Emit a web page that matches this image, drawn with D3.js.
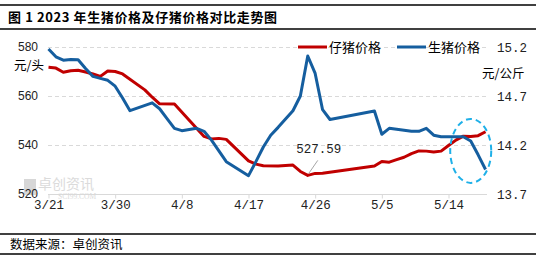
<!DOCTYPE html>
<html><head><meta charset="utf-8">
<script src="https://cdn.jsdelivr.net/npm/d3@7"></script>
<style>
html,body{margin:0;padding:0;background:#fff;}
svg{display:block;}
</style></head>
<body>
<svg id="c" width="536" height="261"></svg>
<script>
// ---- data ----
const titleText = "图 1 2023 年生猪价格及仔猪价格对比走势图";
const sourceText = "数据来源：卓创资讯";
const seriesNames = ["仔猪价格", "生猪价格"];
const leftUnit = "元/头";
const rightUnit = "元/公斤";
const xTickLabels = ["3/21","3/30","4/8","4/17","4/26","5/5","5/14"];
const leftTicks = [520, 540, 560, 580];
const rightTicks = [13.7, 14.2, 14.7, 15.2];

// piglet price (元/头), left axis
const pigletDates = ["3/21","3/22","3/23","3/24","3/25","3/26","3/27","3/28","3/29","3/30","3/31","4/3","4/4","4/5","4/7","4/11","4/12","4/13","4/14","4/17","4/18","4/19","4/21","4/23","4/24","4/25","4/26","4/27","5/4","5/5","5/6","5/7","5/8","5/9","5/10","5/11","5/12","5/13","5/14","5/15","5/16","5/17","5/18","5/19"];
const pigletValues = [571.7,571.4,569.7,570.3,570.5,569.8,569.0,568.0,570.2,570.0,569.0,562.5,559.5,556.8,556.7,543.5,542.5,542.7,542.3,533.5,532.2,531.5,531.4,531.8,529.2,527.59,528.4,528.5,531.4,533.3,533.0,534.0,535.0,536.5,537.6,537.5,537.1,537.5,539.8,542.0,543.6,543.5,543.8,545.4];

// hog price (元/公斤), right axis
const hogDates = ["3/21","3/22","3/23","3/24","3/25","3/26","3/27","3/28","3/29","3/30","3/31","4/1","4/4","4/5","4/6","4/7","4/8","4/10","4/11","4/12","4/14","4/17","4/18","4/19","4/20","4/21","4/23","4/24","4/25","4/26","4/27","4/28","5/4","5/5","5/6","5/9","5/10","5/11","5/12","5/13","5/16","5/17","5/18","5/19"];
const hogValues = [15.18,15.10,15.065,15.072,15.07,14.98,14.90,14.88,14.86,14.80,14.68,14.55,14.63,14.57,14.47,14.37,14.346,14.37,14.34,14.25,14.03,13.887,14.03,14.18,14.30,14.38,14.55,14.70,15.108,14.93,14.56,14.46,14.547,14.31,14.37,14.34,14.34,14.37,14.30,14.285,14.285,14.24,14.10,13.95];

const minLabel = "527.59";
const minDate = "4/25";

// ---- drawing ----
const svg = d3.select("#c");
const parse = s => { const [m, d] = s.split("/").map(Number); return new Date(2023, m - 1, d); };
const RED = "#c00000", BLUE = "#155e9f";
const CJK = "'Noto Sans CJK SC','Noto Sans',sans-serif";

const x = d3.scaleTime().domain([parse("3/21"), parse("5/14")]).range([48.5, 448.5]);
const yL = d3.scaleLinear().domain([520, 580]).range([194, 47]);
const yR = d3.scaleLinear().domain([13.7, 15.2]).range([194, 47]);

// frame lines
[[5,1.6],[29,1.6],[234,1.4],[254,1.4]].forEach(([yy,w]) => {
  svg.append("line").attr("x1",0).attr("x2",536).attr("y1",yy).attr("y2",yy)
    .attr("stroke","#000").attr("stroke-width",w);
});
svg.append("text").attr("x",8).attr("y",22).text(titleText)
  .attr("font-family",CJK).attr("font-weight",700).attr("font-size",13).attr("letter-spacing",0.6).attr("fill","#000");
svg.append("text").attr("x",10).attr("y",249).text(sourceText)
  .attr("font-family",CJK).attr("font-size",12.5).attr("fill","#000");

// gridlines
const gx0 = 48, gx1 = 487;
leftTicks.filter(t => t !== 520).forEach(t => {
  svg.append("line").attr("x1",gx0).attr("x2",gx1).attr("y1",Math.round(yL(t))+0.5).attr("y2",Math.round(yL(t))+0.5)
    .attr("stroke","#d9d9d9").attr("stroke-dasharray","4,3").attr("stroke-width",1);
});

// watermark
const wm = svg.append("g").attr("opacity",0.6);
wm.append("rect").attr("x",24).attr("y",179).attr("width",12).attr("height",16).attr("fill","#bdbdbd");
wm.append("text").attr("x",38).attr("y",189).text("卓创资讯").attr("font-family",CJK).attr("font-size",14).attr("fill","#c4c4c4");
wm.append("text").attr("x",58).attr("y",199).text("SCI99.COM").attr("font-family","'Liberation Serif',serif").attr("font-size",7.5).attr("fill","#c4c4c4");

// x axis
const xAxis = d3.axisBottom(x).tickValues(xTickLabels.map(parse)).tickFormat(d3.timeFormat("%-m/%-d")).tickSize(4).tickSizeOuter(0);
const gX = svg.append("g").attr("transform","translate(0,194.5)").call(xAxis);
gX.select(".domain").attr("stroke","#d9d9d9").attr("d",`M${gx0},0H${gx1}`);
gX.selectAll(".tick line").attr("stroke","#d9d9d9");
gX.selectAll(".tick text").attr("font-family","'Liberation Mono',monospace").attr("font-size",12.5).attr("fill","#222").attr("dy","0.6em");

// left axis
const gL = svg.append("g").attr("transform","translate(48,0)")
  .call(d3.axisLeft(yL).tickValues(leftTicks).tickSize(0).tickPadding(10));
gL.select(".domain").remove();
gL.selectAll(".tick text").attr("font-family","'Liberation Sans',Arial,sans-serif").attr("font-size",12).attr("fill","#222");
svg.append("text").attr("x",14).attr("y",70).text(leftUnit).attr("font-family",CJK).attr("font-size",12.5).attr("fill","#000");

// right axis
const gR = svg.append("g").attr("transform","translate(487,0)")
  .call(d3.axisRight(yR).tickValues(rightTicks).tickFormat(d3.format(".1f")).tickSize(0).tickPadding(10));
gR.select(".domain").remove();
gR.selectAll(".tick text").attr("font-family","'Liberation Mono',monospace").attr("font-size",12.5).attr("fill","#222");
svg.append("text").attr("x",482).attr("y",78).text(rightUnit).attr("font-family",CJK).attr("font-size",12.5).attr("fill","#000");

// lines
const hogLine = d3.line().x((d,i) => x(parse(hogDates[i]))).y(d => yR(d));
const pigLine = d3.line().x((d,i) => x(parse(pigletDates[i]))).y(d => yL(d));
svg.append("path").attr("d", pigLine(pigletValues)).attr("fill","none").attr("stroke",RED).attr("stroke-width",3).attr("stroke-linejoin","round");
svg.append("path").attr("d", hogLine(hogValues)).attr("fill","none").attr("stroke",BLUE).attr("stroke-width",3).attr("stroke-linejoin","round");

// min annotation
const mx = x(parse(minDate)), my = yL(+minLabel);
svg.append("line").attr("x1",mx+1).attr("y1",my-2).attr("x2",mx+10).attr("y2",my-15).attr("stroke","#a6a6a6").attr("stroke-width",1);
svg.append("text").attr("x",mx+11).attr("y",my-22).attr("text-anchor","middle").text(minLabel)
  .attr("font-family","'Liberation Mono',monospace").attr("font-size",12.5).attr("fill","#222");

// dashed ellipse highlight
svg.append("ellipse").attr("cx",x(parse("5/17"))).attr("cy",yR(14.14)).attr("rx",20.5).attr("ry",32)
  .attr("fill","none").attr("stroke","#1fb0e8").attr("stroke-width",2).attr("stroke-dasharray","6,4");

// legend
const legend = [{name: seriesNames[0], color: RED, x: 298}, {name: seriesNames[1], color: BLUE, x: 397}];
legend.forEach(l => {
  svg.append("line").attr("x1",l.x).attr("x2",l.x+29).attr("y1",47).attr("y2",47).attr("stroke",l.color).attr("stroke-width",3);
  svg.append("text").attr("x",l.x+31).attr("y",51.5).text(l.name).attr("font-family",CJK).attr("font-size",13).attr("fill","#000");
});
</script>
</body></html>
